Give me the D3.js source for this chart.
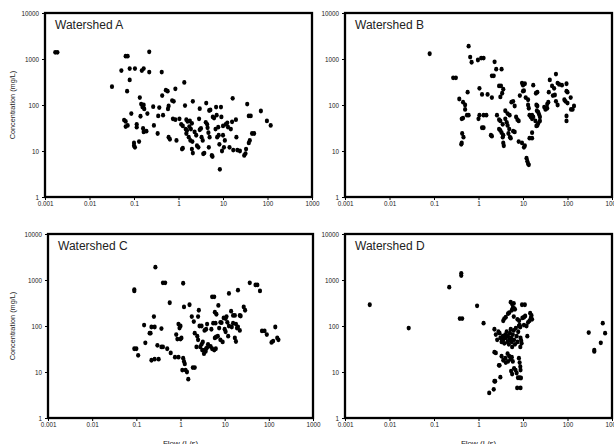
<!DOCTYPE html>
<html>
<head>
<meta charset="utf-8">
<script src="https://cdn.jsdelivr.net/npm/d3@7"></script>
<style>
  body { margin: 0; background: #fff; }
  svg { display: block; font-family: "Liberation Sans", Arial, sans-serif; }
</style>
</head>
<body>
<script>
const w = 614;
const h = 444;

const xTicks = [0.001, 0.01, 0.1, 1, 10, 100, 1000];
const xTickLabels = ["0.001", "0.01", "0.1", "1", "10", "100", "1000"];
const yTicks = [1, 10, 100, 1000, 10000];
const yTickLabels = ["1", "10", "100", "1000", "10000"];

const panelNames = ["Watershed A", "Watershed B", "Watershed C", "Watershed D"];

// [flow (L/s), concentration (mg/L)]
const watershedA = [
  [0.0017, 1400], [0.0019, 1400], [0.032, 250], [0.052, 560], [0.065, 1150], [0.072, 1150],
  [0.08, 620], [0.08, 350], [0.07, 200], [0.105, 620], [0.15, 560], [0.165, 620], [0.22, 1430],
  [0.22, 520], [0.42, 520], [0.06, 47], [0.065, 44], [0.065, 34], [0.072, 36], [0.087, 65],
  [0.1, 15], [0.1, 13], [0.105, 12], [0.115, 38], [0.115, 33], [0.13, 16], [0.135, 145],
  [0.14, 57], [0.145, 105], [0.155, 90], [0.165, 100], [0.17, 82], [0.16, 31], [0.165, 26],
  [0.2, 65], [0.19, 27], [0.27, 92], [0.28, 36], [0.35, 58], [0.37, 88], [0.34, 24], [0.43, 160],
  [0.45, 60], [0.52, 210], [0.57, 200], [0.6, 95], [0.58, 82], [0.6, 20], [0.64, 18], [0.72, 125],
  [0.78, 120], [0.75, 50], [0.85, 225], [0.85, 48], [0.9, 17], [1.05, 50], [1.2, 11], [1.25, 11.5],
  [1.15, 38], [1.25, 35], [1.35, 310], [1.4, 97], [1.5, 48], [1.6, 44], [1.45, 30], [1.55, 28],
  [1.5, 24], [1.7, 20], [1.75, 34], [1.9, 30], [1.8, 45], [2.0, 40], [1.85, 17], [2.05, 16],
  [2.1, 120], [2.0, 11], [2.1, 9], [2.3, 26], [2.5, 22], [2.6, 13], [2.8, 12], [3.0, 29], [3.2, 31],
  [3.0, 83], [2.9, 50], [3.3, 20], [3.5, 17], [3.6, 8.7], [3.8, 9], [4.2, 110], [4.1, 42], [4.4, 38],
  [4.5, 32], [4.7, 25], [4.9, 76], [5.2, 78], [4.8, 12], [5.0, 20], [5.9, 55], [6.3, 52], [5.6, 8],
  [5.8, 7.6], [7, 90], [7.2, 60], [6.8, 30], [7.8, 33], [7.4, 20], [8, 22], [8.3, 14], [9, 90],
  [9.2, 55], [8.5, 4], [9.5, 10], [10.5, 12], [10, 22], [11, 17], [10, 35], [11.5, 38], [13, 33],
  [12.5, 41], [14, 12], [16, 43], [15, 30], [16.5, 140], [17, 10.5], [19.5, 48], [20, 20], [21, 10.5],
  [24, 10], [30, 8], [32, 8.8], [33, 11], [35, 105], [38, 58], [42, 58], [40, 17], [38, 15], [45, 24],
  [50, 24], [71, 74], [97, 45], [118, 36]
];

const watershedB = [
  [0.08, 1300], [0.27, 390], [0.31, 390], [0.37, 135], [0.45, 115], [0.5, 100], [0.5, 80], [0.55, 60],
  [0.6, 60], [0.42, 50], [0.45, 52], [0.43, 24], [0.46, 20], [0.42, 15], [0.41, 14], [0.57, 190],
  [0.6, 1900], [0.65, 1100], [0.7, 850], [0.97, 950], [1.15, 1050], [1.3, 1050], [1.05, 230],
  [1.2, 170], [1.0, 50], [1.05, 60], [1.3, 60], [1.5, 60], [1.2, 32], [1.3, 32], [1.6, 170], [2.0, 145],
  [1.9, 22], [2.0, 21], [2.0, 430], [2.2, 430], [2.3, 870], [2.5, 600], [3.3, 600], [2.9, 260],
  [3.2, 260], [3.4, 180], [3.1, 150], [3.6, 220], [2.6, 60], [2.9, 48], [3.1, 45], [3.5, 38], [2.9, 30],
  [3.1, 28], [3.3, 25], [3.6, 22], [3.5, 20], [3.6, 15], [3.7, 13], [4.0, 75], [4.5, 65], [5.0, 60],
  [4.0, 50], [4.3, 42], [4.5, 36], [4.9, 30], [4.7, 24], [5.1, 20], [5.3, 19], [5.5, 115], [6.0, 120],
  [6.5, 95], [7.0, 55], [7.5, 48], [8.0, 45], [6.0, 27], [6.5, 26], [8.5, 160], [10, 200], [10.5, 205],
  [9.5, 300], [10, 270], [11, 290], [11.5, 145], [13, 130], [13, 100], [13.5, 85], [14, 60], [15, 55],
  [16, 60], [16, 50], [17, 55], [19, 45], [8, 16], [9.5, 15], [10.5, 12], [11, 13], [12, 7], [12.5, 6],
  [13, 5.3], [13.5, 5], [14, 19], [16, 19], [17, 270], [19.5, 180], [21, 190], [20, 100], [21, 95],
  [20.5, 75], [22, 70], [23, 62], [24, 55], [24, 45], [22, 40], [21, 36], [20, 35], [16, 25], [30, 90],
  [32, 80], [35, 85], [35, 105], [37, 115], [38, 190], [40, 350], [45, 260], [50, 230], [47, 160],
  [52, 165], [55, 120], [60, 100], [55, 470], [60, 300], [65, 280], [75, 270], [85, 130], [90, 120],
  [95, 290], [95, 200], [100, 190], [100, 110], [95, 58], [95, 45], [118, 145], [120, 80], [130, 80],
  [140, 95]
];

const watershedC = [
  [0.09, 620], [0.09, 580], [0.27, 1900], [0.4, 870], [0.45, 870], [1.15, 850], [0.57, 320], [1.2, 260],
  [1.6, 290], [0.25, 160], [0.15, 105], [0.22, 95], [0.26, 95], [0.37, 88], [0.2, 70], [0.21, 70],
  [0.16, 43], [0.09, 32], [0.1, 32], [0.11, 23], [0.3, 38], [0.37, 35], [0.4, 35], [0.5, 32], [0.6, 26],
  [0.75, 21], [0.9, 21], [0.22, 18], [0.26, 19], [0.32, 19], [0.9, 110], [0.95, 90], [1.0, 100],
  [0.8, 65], [0.85, 52], [1.0, 52], [1.05, 55], [1.15, 20], [1.25, 15], [1.2, 17], [1.1, 11], [1.3, 11],
  [1.4, 10], [1.5, 7], [1.8, 160], [2.0, 125], [2.1, 70], [2.5, 160], [2.6, 220], [2.7, 100], [3.0, 100],
  [2.4, 60], [2.5, 50], [2.3, 35], [2.8, 35], [3.0, 40], [3.2, 45], [3.1, 30], [1.9, 12.5], [2.1, 12.5],
  [3.5, 30], [3.7, 28], [3.8, 32], [4.0, 34], [3.4, 25], [3.5, 80], [3.8, 85], [4.0, 110], [5.0, 85],
  [4.2, 40], [4.8, 36], [5.2, 32], [5.8, 30], [6.3, 32], [6.0, 55], [6.4, 58], [5.5, 115], [6.2, 115],
  [5.2, 430], [5.8, 430], [6.0, 200], [6.5, 180], [7.2, 280], [7.0, 60], [8.0, 50], [9.0, 45], [8.0, 120],
  [8.5, 118], [7.5, 90], [9.5, 150], [10.5, 145], [11, 160], [11.5, 120], [12.5, 100], [10, 85],
  [10.5, 75], [12, 60], [12.5, 510], [14, 210], [15.5, 170], [15.5, 115], [14.5, 95], [17, 170],
  [18, 110], [19, 90], [17, 55], [18, 46], [20, 95], [22, 80], [22, 170], [23, 165], [20, 600], [27, 260],
  [29, 220], [37, 870], [50, 780], [55, 780], [63, 580], [70, 78], [80, 78], [90, 65], [115, 44],
  [125, 47], [140, 95], [155, 55], [165, 50]
];

const watershedD = [
  [0.0036, 290], [0.027, 90], [0.22, 700], [0.41, 1400], [0.41, 1250], [0.38, 145], [0.43, 145],
  [0.93, 275], [1.3, 115],
  [5.3, 330], [5.7, 300], [6.2, 310], [5.9, 250], [6.3, 240], [5.6, 220], [6.6, 230], [4.6, 185],
  [4.9, 195], [4.1, 155], [3.8, 145], [3.6, 130], [6.2, 160], [7.5, 140], [8.2, 130], [9.7, 150],
  [10.5, 155], [11.2, 165], [9.5, 290], [11, 290], [10.5, 105], [12, 100], [13, 120], [14, 130],
  [15, 150], [15.5, 170], [16, 140], [14.5, 190], [12.5, 60],
  [2.28, 85], [2.45, 65], [2.63, 50], [2.8, 75], [2.97, 70], [3.1, 55], [3.3, 45], [3.5, 60], [3.6, 50],
  [3.8, 42], [4.0, 65], [4.1, 55], [4.3, 75], [4.5, 45], [4.6, 60], [4.8, 40], [4.9, 50], [5.1, 70],
  [5.3, 85], [5.4, 55], [5.6, 45], [5.7, 35], [5.9, 65], [6.2, 80], [6.3, 50], [6.6, 40], [6.9, 90],
  [7.2, 60], [7.5, 45], [7.8, 75], [8.1, 100], [8.4, 105], [8.7, 95], [8.8, 55], [9.1, 48], [9.3, 42],
  [8.7, 35],
  [2.28, 27], [2.45, 26], [2.88, 14], [2.97, 14], [3.3, 22], [3.6, 18], [4.0, 20], [4.1, 16], [4.5, 25],
  [4.6, 17], [4.9, 22], [5.3, 19], [5.6, 21], [5.9, 17], [5.4, 10.5], [5.7, 9], [6.3, 12], [6.8, 11],
  [7.2, 9.5], [7.7, 7.5], [8.1, 20], [8.4, 16], [8.7, 13], [8.8, 11], [8.4, 7.5], [9.0, 7.4], [7.4, 4.5],
  [8.8, 4.5], [3.1, 7.7], [2.28, 6.3], [2.37, 6.3], [2.2, 4.2], [1.74, 3.5],
  [300, 72], [400, 30], [400, 28], [560, 43], [620, 115], [700, 70]
];

const panels = [
  { name: panelNames[0], data: watershedA, x0: 45, x1: 312, y0: 13, y1: 197, yTitle: true, xTitle: false },
  { name: panelNames[1], data: watershedB, x0: 345, x1: 612, y0: 13, y1: 197, yTitle: false, xTitle: false },
  { name: panelNames[2], data: watershedC, x0: 48, x1: 313, y0: 234, y1: 418, yTitle: true, xTitle: true },
  { name: panelNames[3], data: watershedD, x0: 345, x1: 612, y0: 234, y1: 418, yTitle: false, xTitle: true }
];

const svg = d3.select("body").append("svg").attr("width", w).attr("height", h);

const drawPanel = (p) => {
  const x = d3.scaleLog().domain([0.001, 1000]).range([p.x0, p.x1]);
  const y = d3.scaleLog().domain([1, 10000]).range([p.y1, p.y0]);
  const g = svg.append("g");

  const xAxis = d3.axisBottom(x).tickValues(xTicks)
    .tickFormat((d, i) => xTickLabels[i]).tickSize(3).tickPadding(2);
  const gx = g.append("g").attr("transform", `translate(0,${p.y1})`).call(xAxis);

  const yAxis = d3.axisLeft(y).tickValues(yTicks)
    .tickFormat((d, i) => yTickLabels[i]).tickSize(3).tickPadding(3);
  const gy = g.append("g").attr("transform", `translate(${p.x0},0)`).call(yAxis);

  [gx, gy].forEach((ax) => {
    ax.select(".domain").remove();
    ax.selectAll("text").attr("font-size", 6.3).attr("fill", "#222")
      .attr("font-family", "Liberation Sans, Arial, sans-serif");
  });

  g.selectAll("ellipse")
    .data(p.data)
    .enter()
    .append("ellipse")
    .attr("cx", (d) => x(d[0]))
    .attr("cy", (d) => y(d[1]))
    .attr("rx", 2.1)
    .attr("ry", 2.4)
    .attr("fill", "#000");

  g.append("rect")
    .attr("x", p.x0).attr("y", p.y0)
    .attr("width", p.x1 - p.x0).attr("height", p.y1 - p.y0)
    .attr("fill", "none").attr("stroke", "#000").attr("stroke-width", 2.3);

  g.append("text")
    .text(p.name)
    .attr("x", p.x0 + 10).attr("y", p.y0 + 16)
    .attr("font-size", 12).attr("fill", "#222");

  if (p.yTitle) {
    g.append("text")
      .text("Concentration (mg/L)")
      .attr("transform", `translate(15,${(p.y0 + p.y1) / 2}) rotate(-90)`)
      .attr("text-anchor", "middle")
      .attr("font-size", 7.3).attr("fill", "#222");
  }
  if (p.xTitle) {
    g.append("text")
      .text("Flow (L/s)")
      .attr("x", (p.x0 + p.x1) / 2).attr("y", 445.5)
      .attr("text-anchor", "middle")
      .attr("font-size", 8).attr("fill", "#222");
  }
};

panels.forEach(drawPanel);
</script>
</body>
</html>
